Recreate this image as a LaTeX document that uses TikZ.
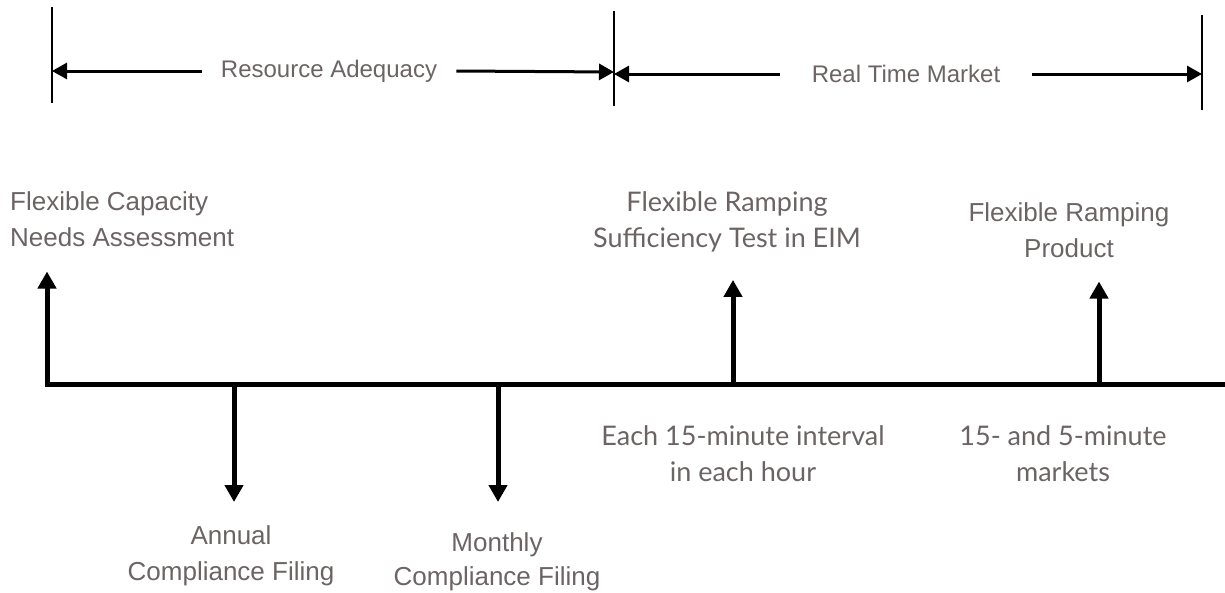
\documentclass[tikz,border=0pt]{standalone}
\usepackage{fontspec}
\setmainfont{Liberation Sans}
\newfontfamily\gillfont{Lato}
\usetikzlibrary{arrows.meta,positioning}
\definecolor{labelgray}{RGB}{108,100,100}

\tikzset{
  lbl/.style={text=labelgray, font=\fontsize{26}{36}\selectfont, align=center, inner sep=0pt},
  gill/.style={lbl, font=\gillfont\fontsize{27}{36}\selectfont},
  spanlbl/.style={text=labelgray, font=\fontsize{24}{28}\selectfont, inner ysep=0pt},
  bar/.style={line width=2.5pt},
  spanarrow/.style={line width=3pt, -{Triangle[length=15pt,width=16pt]}},
  evarrow/.style={line width=5pt, -{Triangle[length=17pt,width=18pt]}},
  timeline/.style={line width=5pt, line join=miter}
}

\begin{document}
\begin{tikzpicture}[x=1pt,y=-1pt]
    \useasboundingbox (0,0) rectangle (1225,592);

    % period brackets
    \draw[bar] (52,7) -- (52,103)
               (614,11) -- (614,106)
               (1202,15) -- (1202,110);
    \coordinate (raL) at (52,71);
    \coordinate (raR) at (614,72);
    \coordinate (rtL) at (614,74);
    \coordinate (rtR) at (1202,74);

    \node[spanlbl, inner xsep=19pt] (ra) at (329,71) {Resource Adequacy};
    \node[spanlbl, inner xsep=32pt] (rt) at (906,74) {Real Time Market};
    \draw[spanarrow] (ra.west) -- (raL);
    \draw[spanarrow] (ra.east) -- (raR);
    \draw[spanarrow] (rt.west) -- (rtL);
    \draw[spanarrow] (rt.east) -- (rtR);

    % timeline
    \coordinate (t0) at (47,384);
    \coordinate (t1) at (1225,384);
    \coordinate (ev1) at (234,384);
    \coordinate (ev2) at (498,384);
    \coordinate (ev3) at (733,384);
    \coordinate (ev4) at (1099,384);

    \node[lbl, align=left, anchor=north west] (fca) at (10,191)
        {Flexible Capacity\\Needs Assessment};
    \node[gill, anchor=north] (frs) at (727,191)
        {Flexible Ramping\\Sufficiency Test in EIM};
    \node[lbl, anchor=north] (frp) at (1069,202)
        {Flexible Ramping\\Product};
    \node[gill, anchor=north] (each) at (743,425)
        {Each 15-minute interval\\in each hour};
    \node[gill, anchor=north] (mkt) at (1063,425)
        {15- and 5-minute\\markets};
    \node[lbl, anchor=north] (ann) at (231,525)
        {Annual\\Compliance Filing};
    \node[lbl, anchor=north, font=\fontsize{26}{34}\selectfont] (mon) at (497,532)
        {Monthly\\Compliance Filing};

    \draw[timeline, evarrow, shorten >=25pt] (t1) -- (t0) -- (t0 |- fca.south);
    \draw[evarrow, shorten >=28pt] (ev3) -- (ev3 |- frs.south);
    \draw[evarrow, shorten >=24pt] (ev4) -- (ev4 |- frp.south);
    \draw[evarrow, shorten >=23pt] (ev1) -- (ev1 |- ann.north);
    \draw[evarrow, shorten >=30pt] (ev2) -- (ev2 |- mon.north);
\end{tikzpicture}
\end{document}
